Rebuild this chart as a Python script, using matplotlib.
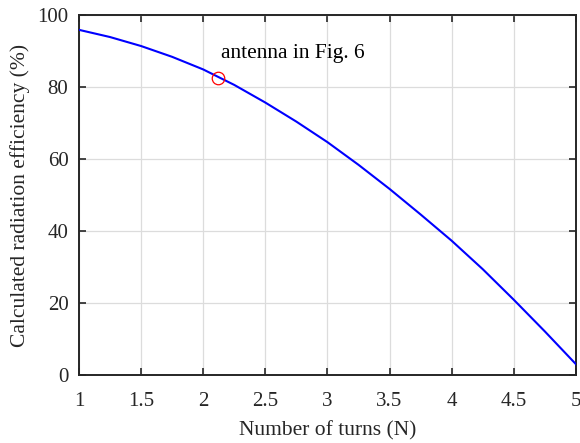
import numpy as np
import matplotlib
matplotlib.use("Agg")
import matplotlib.pyplot as plt

# values
turns = [1.0, 1.25, 1.5, 1.75, 2.0, 2.25, 2.5, 2.75, 3.0,
         3.25, 3.5, 3.75, 4.0, 4.25, 4.5, 4.75, 5.0]
efficiency = [95.9, 93.9, 91.4, 88.4, 84.9, 80.6, 75.7, 70.4, 64.7,
              58.4, 51.7, 44.6, 37.3, 29.4, 20.9, 12.1, 3.0]

# marked design point
mark_n = 2.12
mark_eff = 82.4
mark_text = "antenna in Fig. 6"

plt.rcParams['font.family'] = ['Liberation Serif', 'DejaVu Serif']

fig = plt.figure(figsize=(5.8, 4.43), dpi=100)
ax = fig.add_axes([0.136, 0.1535, 0.857, 0.8125])

ax.plot(turns, efficiency, color='#0000ff', lw=1.5, zorder=3)
ax.plot(mark_n, mark_eff, 'o', mfc='none', mec='#ff0000', ms=9, mew=0.9, zorder=4)
ax.text(mark_n + 0.02, mark_eff + 6.8, mark_text, fontsize=15.5, ha='left', va='center')

ax.set_xlim(1, 5)
ax.set_ylim(0, 100)
ax.set_xticks(np.arange(1, 5.01, 0.5))
ax.set_xticklabels(['1', '1.5', '2', '2.5', '3', '3.5', '4', '4.5', '5'])
ax.set_yticks([0, 20, 40, 60, 80, 100])

ax.grid(True, color='#dcdcdc', lw=0.9)
ax.set_axisbelow(True)
for s in ax.spines.values():
    s.set_linewidth(1.4)
    s.set_color('#262626')
ax.tick_params(direction='in', top=True, right=True, length=5, width=1.2,
               color='#262626', labelsize=15, labelcolor='#262626')
ax.tick_params(axis='x', pad=12.5)
ax.tick_params(axis='y', pad=7.5)

ax.set_xlabel('Number of turns (N)', fontsize=15.5, color='#262626', labelpad=7)
ax.set_ylabel('Calculated radiation efficiency (%)', fontsize=15.5, color='#262626', labelpad=5)

fig.savefig('out.png', dpi=100)
